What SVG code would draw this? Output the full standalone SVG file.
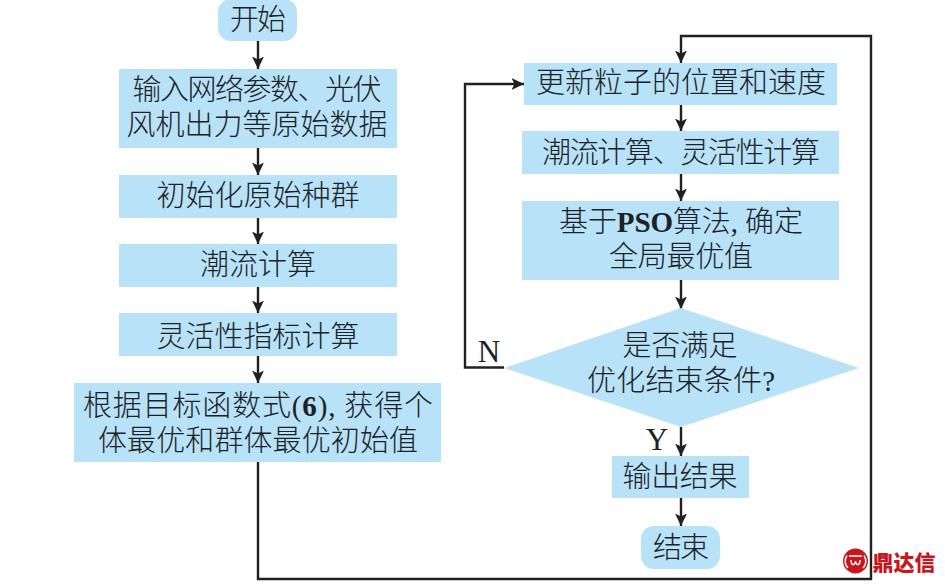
<svg xmlns="http://www.w3.org/2000/svg" width="945" height="584" viewBox="0 0 945 584">
<style>
.b{fill:#b7e2f8}
text{font-family:"Liberation Serif","Noto Sans CJK SC",serif;font-size:29px;font-weight:300;fill:#1e2226;text-anchor:middle}
.l{font-size:31px;font-weight:400}
.s{font-weight:700}
.c{fill:none;stroke:#231f20;stroke-width:2.4}
</style>
<defs><marker id="a" markerUnits="userSpaceOnUse" markerWidth="13" markerHeight="13" refX="12.5" refY="6.5" orient="auto"><path d="M0 0.5L12.5 6.5L0 12.5L3 6.5Z" fill="#231f20"/></marker></defs>
<rect width="945" height="584" fill="#fff"/>
<g id="connectors">
<path class="c" marker-end="url(#a)" d="M258 41V69"/>
<path class="c" marker-end="url(#a)" d="M258 147V175"/>
<path class="c" marker-end="url(#a)" d="M258 217V244"/>
<path class="c" marker-end="url(#a)" d="M258 286V313"/>
<path class="c" marker-end="url(#a)" d="M258 355V383"/>
<path class="c" marker-end="url(#a)" d="M258 461V579H871V36H681V63"/>
<path class="c" marker-end="url(#a)" d="M681 104V131"/>
<path class="c" marker-end="url(#a)" d="M681 173V201"/>
<path class="c" marker-end="url(#a)" d="M681 279V309"/>
<path class="c" marker-end="url(#a)" d="M504 367.500H465V84H524"/>
<path class="c" marker-end="url(#a)" d="M681 427V456"/>
<path class="c" marker-end="url(#a)" d="M681 497V526"/>
</g>
<g id="n1"><rect class="b" x="218" y="-1" width="79" height="42" rx="13"/><text x="258" y="30" textLength="56">开始</text></g>
<g id="n2"><rect class="b" x="119" y="69" width="278" height="79"/><text x="257" y="100" textLength="249">输入网络参数、光伏</text><text x="257" y="135" textLength="261">风机出力等原始数据</text></g>
<g id="n3"><rect class="b" x="119" y="175" width="278" height="43"/><text x="258" y="206" textLength="203">初始化原始种群</text></g>
<g id="n4"><rect class="b" x="119" y="244" width="278" height="43"/><text x="258" y="275" textLength="116">潮流计算</text></g>
<g id="n5"><rect class="b" x="119" y="313" width="278" height="43"/><text x="258" y="347" textLength="203">灵活性指标计算</text></g>
<g id="n6"><rect class="b" x="74" y="383" width="367" height="79"/><text x="258" y="416" textLength="350">根据目标函数式(<tspan class="s">6</tspan>), 获得个</text><text x="258" y="451" textLength="320">体最优和群体最优初始值</text></g>
<g id="n7"><rect class="b" x="524" y="63" width="313" height="42"/><text x="681" y="93" textLength="290">更新粒子的位置和速度</text></g>
<g id="n8"><rect class="b" x="522" y="131" width="317" height="43"/><text x="681" y="163" textLength="278">潮流计算、灵活性计算</text></g>
<g id="n9"><rect class="b" x="522" y="201" width="317" height="79"/><text x="681" y="232" textLength="244">基于<tspan class="s">PSO</tspan>算法, 确定</text><text x="681" y="267" textLength="144">全局最优值</text></g>
<g id="n10"><path class="b" d="M504 368L681 308L859 368L681 427Z"/><text x="680" y="356" textLength="115">是否满足</text><text x="681" y="391" textLength="188">优化结束条件?</text></g>
<g id="n11"><rect class="b" x="612" y="456" width="137" height="42"/><text x="680" y="487" textLength="115">输出结果</text></g>
<g id="n12"><rect class="b" x="641" y="526" width="79" height="43" rx="13"/><text x="681" y="558" textLength="56">结束</text></g>
<text class="l" x="489" y="362">N</text>
<text class="l" x="657" y="450">Y</text>
<g id="watermark"><circle cx="855.500" cy="561" r="12.500" fill="#c8161d"/><path d="M847 555.500C844 560 845 565 848 568M864 555.500C867 560 866 565 863 568M849 556H862M851 560C851 566 855 566 855.500 561C856 566 860 566 860 560" fill="none" stroke="#fff" stroke-width="1.500"/><text x="904" y="570" textLength="63" style="font-family:'Noto Sans CJK SC',sans-serif;font-weight:900;font-size:21px;fill:#c8161d">鼎达信</text></g>
</svg>
